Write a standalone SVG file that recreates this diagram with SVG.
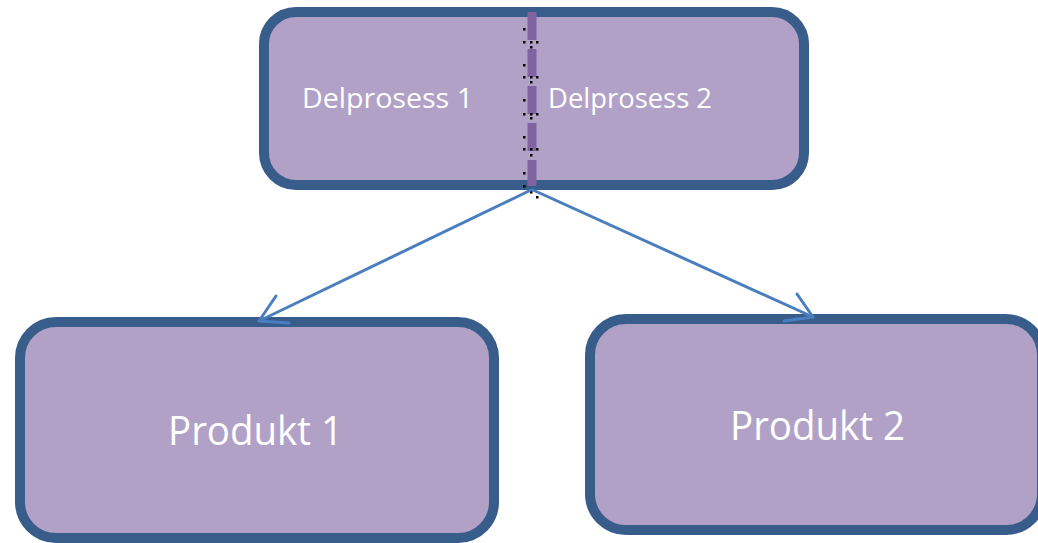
<svg xmlns="http://www.w3.org/2000/svg" width="1038" height="543" viewBox="0 0 1038 543">
<defs>
<style>
.box{fill:#B2A1C7;stroke:#385D8A;stroke-width:10}
.lbl{fill:#FFFFFF;font-family:"Open Sans","Liberation Sans",sans-serif}
.conn{fill:none;stroke:#4A7EBF;stroke-width:3;stroke-linecap:round;stroke-linejoin:round}
.dot{fill:#000000}
</style>
</defs>
<rect width="1038" height="543" fill="#FFFFFF"/>
<g id="delprosess">
<rect class="box" x="264" y="12" width="540" height="173" rx="32" ry="32"/>
<line x1="532" y1="12" x2="532" y2="186" stroke="#8064A2" stroke-width="9" stroke-dasharray="28 9"/>
<g class="dot">
<rect x="523" y="28" width="2.5" height="2.5"/><rect x="523" y="64" width="2.5" height="2.5"/><rect x="523" y="99" width="2.5" height="2.5"/><rect x="523" y="136" width="2.5" height="2.5"/><rect x="523" y="172" width="2.5" height="2.5"/>
<rect x="523" y="41" width="2.5" height="2.5"/><rect x="530" y="41" width="2.5" height="2.5"/><rect x="536" y="41" width="2.5" height="2.5"/><rect x="530" y="46" width="2.5" height="2.5"/>
<rect x="523" y="76" width="2.5" height="2.5"/><rect x="530" y="76" width="2.5" height="2.5"/><rect x="536" y="76" width="2.5" height="2.5"/><rect x="530" y="81" width="2.5" height="2.5"/>
<rect x="523" y="113" width="2.5" height="2.5"/><rect x="530" y="113" width="2.5" height="2.5"/><rect x="536" y="113" width="2.5" height="2.5"/><rect x="530" y="117" width="2.5" height="2.5"/>
<rect x="523" y="148" width="2.5" height="2.5"/><rect x="530" y="148" width="2.5" height="2.5"/><rect x="536" y="148" width="2.5" height="2.5"/><rect x="530" y="154" width="2.5" height="2.5"/>
<rect x="523" y="185" width="2.5" height="2.5"/><rect x="530" y="191" width="2.5" height="2.5"/><rect x="536" y="196" width="2.5" height="2.5"/>
</g>
<text class="lbl" x="302" y="108" font-size="27" textLength="171" lengthAdjust="spacingAndGlyphs">Delprosess 1</text>
<text class="lbl" x="548" y="108" font-size="27" textLength="164" lengthAdjust="spacingAndGlyphs">Delprosess 2</text>
</g>
<g id="produkt1">
<rect class="box" x="20" y="322" width="474" height="216" rx="36" ry="36"/>
<text class="lbl" x="168" y="445" font-size="40" textLength="175" lengthAdjust="spacingAndGlyphs">Produkt 1</text>
</g>
<g id="produkt2">
<rect class="box" x="590" y="319" width="452" height="211" rx="36" ry="36"/>
<text class="lbl" x="730" y="440" font-size="40" textLength="175" lengthAdjust="spacingAndGlyphs">Produkt 2</text>
</g>
<g id="connectors">
<path class="conn" d="M531,190 L259,321"/>
<path class="conn" d="M276,296 L259,321 L289,323"/>
<path class="conn" d="M533,190 L813,317"/>
<path class="conn" d="M797,294 L813,317 L784,321"/>
</g>
</svg>
